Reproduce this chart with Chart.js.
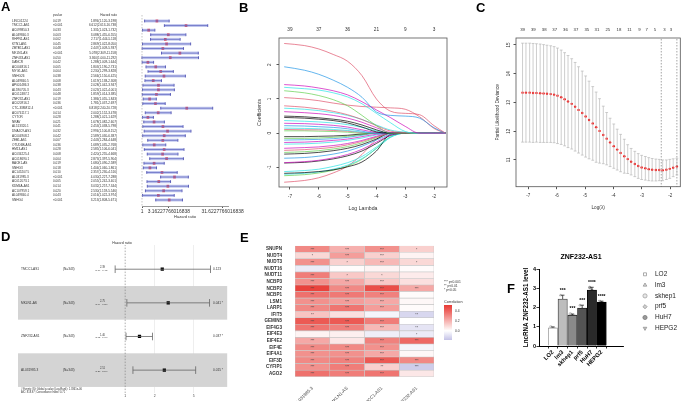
<!DOCTYPE html>
<html>
<head>
<meta charset="utf-8">
<script src="https://cdn.jsdelivr.net/npm/chart.js@4.4.1/dist/chart.umd.min.js"></script>
<style>
html, body { margin: 0; padding: 0; background: #fff; }
#fig { position: relative; width: 685px; height: 401px; overflow: hidden; font-family: "Liberation Sans", Arial, sans-serif; }
.box { position: absolute; }
.lab { position: absolute; font-weight: bold; font-size: 13px; line-height: 13px; color: #000; }
</style>
</head>
<body>
<div id="fig">
  <div class="box" style="left:0;top:0;width:252px;height:230px"><canvas id="cA"></canvas></div>
  <div class="box" style="left:232px;top:0;width:222px;height:230px"><canvas id="cB"></canvas></div>
  <div class="box" style="left:460px;top:0;width:225px;height:230px"><canvas id="cC"></canvas></div>
  <div class="box" style="left:0;top:238px;width:232px;height:163px"><canvas id="cD"></canvas></div>
  <div class="box" style="left:232px;top:238px;width:240px;height:163px"><canvas id="cE"></canvas></div>
  <div class="box" style="left:505px;top:240px;width:180px;height:161px"><canvas id="cF"></canvas></div>
  <div class="lab" style="left:1px;top:0">A</div>
  <div class="lab" style="left:239px;top:1px">B</div>
  <div class="lab" style="left:476px;top:1px">C</div>
  <div class="lab" style="left:1px;top:230px">D</div>
  <div class="lab" style="left:240px;top:231px">E</div>
  <div class="lab" style="left:507px;top:282px">F</div>
</div>
<script>
// ---------- A: univariate Cox forest ----------
const aGenes = ["LINC01224","TMCC1-AS1","AC099850.3","AL049840.3","RHPN1-AS1","KTN1-AS1","ZBTB11-AS1","MKLN1-AS","ZNF433-AS1","DANCR",
  "AC004816.1","MYG1-AS1","SNHG26","AL049840.5","AP001486.3","AL590705.3","AC012487.2","ZNF232-AS1","AC020916.2","CTC-338M12.4",
  "AC074117.1","CYTOR","NRAV","AL513320.1","DNAJC9-AS1","AC004908.2","ZEB1-AS1","OTUD6B-AS1","HM13-AS1","AC034225.4",
  "AC018690.1","BACE1-AS","SNHG3","AC145207.5","AL031985.3","AC012073.1","KDM4A-AS1","AC107959.1","AL049840.4","SNHG4"];
const aPval = ["0.019","<0.001","0.033","0.003","0.002","0.045","0.048","<0.001","0.050","0.042",
  "0.005","0.004","0.038","0.008","0.038","0.043","0.048","0.019","0.036","<0.001",
  "0.014","0.028","0.021","0.041","0.032","0.042","0.007","0.036","0.028","0.008",
  "0.004","0.019","0.018","0.010","<0.001","0.005","0.014","0.020","0.043","<0.001"];
const aHR = [1.894,6.612,1.331,3.088,2.717,2.869,2.447,5.078,3.360,1.288,
  1.803,2.230,2.566,1.619,2.028,2.023,1.859,1.386,1.781,6.818,
  2.002,1.288,1.678,2.453,2.994,2.589,2.443,1.689,2.585,2.420,
  2.873,1.680,1.404,2.357,4.030,2.055,3.032,2.530,2.016,3.213];
const aLow = [1.120,2.613,1.023,1.455,1.444,1.022,1.009,2.309,1.000,1.009,
  1.190,1.299,1.150,1.138,1.042,1.022,1.014,1.055,1.037,2.240,
  1.152,1.021,1.082,1.038,1.100,1.030,1.284,1.035,1.106,1.255,
  1.397,1.090,1.060,1.230,2.227,1.242,1.257,1.159,1.022,1.808];
const aHigh = [3.198,16.738,1.732,6.555,5.118,8.050,5.937,11.158,11.292,1.644,
  2.731,3.828,6.425,2.308,3.947,4.001,3.385,1.843,2.697,20.728,
  3.478,1.629,2.607,5.798,8.152,6.387,4.648,2.768,6.041,4.668,
  5.904,2.589,1.861,4.516,7.288,3.401,7.344,5.546,3.974,5.671];
const aTicks = [1, 3.16227766016838, 31.6227766016838];
const aTickLabels = ["1", "3.16227766016838", "31.6227766016838"];

// ---------- B: lasso coefficient paths ----------
const bLogLambda = [-7.2, -6.5, -6, -5.5, -5, -4.5, -4, -3.5, -3, -2.5, -2, -1.6];
const bCoef = [
  [2.62, 2.56, 2.46, 2.30, 2.10, 1.68, 1.00, 0.64, 0.58, 0.54, 0.22, 0],
  [1.94, 1.84, 1.72, 1.55, 1.34, 1.05, 0.62, 0.52, 0.50, 0.44, 0.16, 0],
  [1.42, 1.38, 1.32, 1.24, 1.12, 0.92, 0.68, 0.45, 0.20, 0, 0, 0],
  [1.34, 1.30, 1.26, 1.18, 1.06, 0.86, 0.58, 0.30, 0.05, 0, 0, 0],
  [1.24, 1.18, 1.10, 0.98, 0.80, 0.52, 0.22, 0, 0, 0, 0, 0],
  [1.04, 1.00, 0.95, 0.88, 0.82, 0.78, 0.76, 0.74, 0.70, 0.48, 0.14, 0],
  [0.80, 0.76, 0.71, 0.64, 0.54, 0.40, 0.22, 0.06, 0.02, 0, 0, 0],
  [0.73, 0.70, 0.66, 0.60, 0.52, 0.40, 0.24, 0.09, 0.03, 0, 0, 0],
  [0.63, 0.60, 0.57, 0.52, 0.44, 0.32, 0.16, 0.02, 0, 0, 0, 0],
  [0.50, 0.48, 0.45, 0.41, 0.35, 0.24, 0.10, 0, 0, 0, 0, 0],
  [0.46, 0.44, 0.41, 0.37, 0.30, 0.18, 0.04, 0, 0, 0, 0, 0],
  [0.37, 0.35, 0.33, 0.30, 0.25, 0.17, 0.07, 0, 0, 0, 0, 0],
  [0.29, 0.28, 0.26, 0.23, 0.18, 0.10, 0.02, 0, 0, 0, 0, 0],
  [0.22, 0.21, 0.19, 0.17, 0.13, 0.06, 0, 0, 0, 0, 0, 0],
  [0.15, 0.14, 0.13, 0.11, 0.08, 0.03, 0, 0, 0, 0, 0, 0],
  [0.11, 0.10, 0.10, 0.08, 0.06, 0.02, 0, 0, 0, 0, 0, 0],
  [0.07, 0.07, 0.06, 0.05, 0.03, 0, 0, 0, 0, 0, 0, 0],
  [-0.10, -0.10, -0.09, -0.08, -0.06, -0.02, 0, 0, 0, 0, 0, 0],
  [-0.15, -0.15, -0.14, -0.12, -0.09, -0.04, 0, 0, 0, 0, 0, 0],
  [-0.20, -0.19, -0.18, -0.16, -0.12, -0.06, 0, 0, 0, 0, 0, 0],
  [-0.27, -0.26, -0.24, -0.21, -0.17, -0.10, -0.03, 0, 0, 0, 0, 0],
  [-0.32, -0.31, -0.29, -0.26, -0.21, -0.14, -0.05, 0, 0, 0, 0, 0],
  [-0.44, -0.42, -0.40, -0.36, -0.30, -0.21, -0.09, 0, 0, 0, 0, 0],
  [-0.50, -0.48, -0.45, -0.41, -0.34, -0.24, -0.11, 0, 0, 0, 0, 0],
  [-0.56, -0.54, -0.51, -0.46, -0.39, -0.28, -0.13, 0, 0, 0, 0, 0],
  [-0.61, -0.59, -0.56, -0.51, -0.44, -0.33, -0.17, 0, 0, 0, 0, 0],
  [-0.73, -0.71, -0.67, -0.61, -0.52, -0.38, -0.20, -0.03, 0, 0, 0, 0],
  [-0.86, -0.83, -0.79, -0.72, -0.62, -0.47, -0.26, -0.05, 0, 0, 0, 0],
  [-0.87, -0.85, -0.81, -0.75, -0.66, -0.52, -0.30, -0.06, 0, 0, 0, 0],
  [-1.12, -1.09, -1.05, -0.97, -0.86, -0.68, -0.40, -0.10, 0, 0, 0, 0],
  [-1.17, -1.15, -1.12, -1.07, -0.98, -0.84, -0.52, -0.03, 0, 0, 0, 0],
  [-1.20, -1.17, -1.13, -1.05, -0.93, -0.74, -0.45, -0.12, 0, 0, 0, 0],
  [-1.24, -1.21, -1.16, -1.08, -0.96, -0.76, -0.44, -0.10, 0, 0, 0, 0],
  [-1.43, -1.38, -1.30, -1.16, -0.96, -0.62, -0.18, 0, 0, 0, 0, 0]
];
const bTicks = [-7, -6, -5, -4, -3, -2];
const bTopPos = [-7, -6, -5, -4, -3, -2];
const bTopLabels = ["39", "37", "36", "21", "9", "3"];

// ---------- C: cross-validation curve ----------
const cLogLambda = [-7.20,-7.08,-6.95,-6.83,-6.71,-6.58,-6.46,-6.34,-6.21,-6.09,-5.97,-5.84,-5.72,-5.60,-5.47,
  -5.35,-5.23,-5.10,-4.98,-4.86,-4.73,-4.61,-4.49,-4.36,-4.24,-4.12,-3.99,-3.87,-3.75,-3.62,
  -3.50,-3.38,-3.25,-3.13,-3.01,-2.88,-2.76,-2.64,-2.51,-2.39,-2.27,-2.14,-2.02,-1.90,-1.77];
const cMean = [13.34,13.34,13.34,13.33,13.33,13.32,13.31,13.30,13.29,13.27,13.23,13.18,13.11,13.03,12.95,
  12.85,12.74,12.63,12.51,12.39,12.27,12.14,12.01,11.87,11.74,11.61,11.48,11.36,11.24,11.13,
  11.03,10.94,10.86,10.79,10.74,10.71,10.68,10.66,10.65,10.65,10.64,10.66,10.69,10.73,10.77];
const cSE = [1.72,1.72,1.72,1.72,1.71,1.71,1.70,1.69,1.68,1.67,1.66,1.64,1.62,1.60,1.57,
  1.54,1.50,1.46,1.41,1.35,1.28,1.22,1.12,1.00,0.91,0.84,0.77,0.71,0.65,0.59,
  0.50,0.46,0.44,0.43,0.42,0.41,0.40,0.39,0.38,0.37,0.36,0.34,0.33,0.31,0.29];
const cLambdaMin = -2.32;
const cLambda1se = -1.77;
const cTicks = [-7, -6, -5, -4, -3, -2];
const cYTicks = [11, 12, 13, 14, 15];
const cTopPos = [-7.2,-6.82,-6.44,-6.07,-5.69,-5.32,-4.94,-4.58,-4.2,-3.81,-3.44,-3.09,-2.83,-2.54,-2.21,-1.98];
const cTopLabels = ["39","39","38","37","36","37","35","31","25","18","11","9","7","5","3","3"];

// ---------- D: multivariate Cox forest ----------
const dGenes = ["TMCC1-AS1", "MKLN1-AS", "ZNF232-AS1", "AL031985.3"];
const dN = ["(N=343)", "(N=343)", "(N=343)", "(N=343)"];
const dHR = [2.39, 2.75, 1.40, 2.51];
const dLow = [0.79, 1.04, 1.02, 1.20];
const dHigh = [7.43, 7.26, 1.90, 5.24];
const dP = ["0.123", "0.041 *", "0.037 *", "0.015 *"];
const dTicks = [1, 2, 5];

// ---------- E: correlation heatmap ----------
const eGenes = ["SNUPN","NUDT4","NUDT3","NUDT16","NUDT11","NCBP3","NCBP2","NCBP1","LSM1","LARP1",
  "IFIT5","GEMIN5","EIF4G3","EIF4E3","EIF4E2","EIF4E","EIF4A1","EIF3D","CYFIP1","AGO2"];
const eCols = ["AL031985.3", "MKLN1-AS", "TMCC1-AS1", "ZNF232-AS1"];
const corrAL031985 = [0.30,0.10,0.28,-0.06,0.33,0.28,0.48,0.36,0.28,0.30,0.15,0.42,0.35,0.03,0.22,0.30,0.28,0.30,0.28,0.36];
const corrMKLN1 = [0.20,0.25,0.12,0.01,0.14,0.22,0.30,0.34,0.25,0.35,0.08,0.42,0.32,0.04,0.06,0.30,0.28,0.32,0.33,0.33];
const corrTMCC1 = [0.28,0.12,0.18,0.03,0.10,0.14,0.45,0.32,0.22,0.25,-0.03,0.33,0.18,-0.05,0.32,0.28,0.22,0.42,0.12,0.35];
const corrZNF232 = [0.12,0.03,0.10,0.01,0.05,0.08,0.22,0.01,0.02,0.01,-0.12,0.00,-0.08,-0.06,0.38,-0.03,0.02,0.30,-0.15,0.06];
const sigAL031985 = ["***","*","***","","***","***","***","***","***","***","**","***","***","","***","***","***","***","***","***"];
const sigMKLN1 = ["***","***","*","","*","***","***","***","***","***","","***","***","","","***","***","***","***","***"];
const sigTMCC1 = ["***","***","***","","*","***","***","***","***","***","","***","***","","***","***","***","***","**","***"];
const sigZNF232 = ["*","","*","","","","***","","","","**","","**","*","***","","","***","***",""];
const eLegendTicks = [0.4, 0.2, 0.0];

// ---------- F: qPCR bar chart ----------
const fLines = ["LO2", "lm3", "skhep1", "prf5", "HuH7", "HEPG2"];
const fMean = [0.94, 2.44, 1.60, 1.97, 2.91, 2.28];
const fSD = [0.05, 0.20, 0.06, 0.15, 0.14, 0.05];
const fRepA = [1.00, 2.64, 1.67, 2.12, 3.04, 2.34];
const fRepB = [0.93, 2.38, 1.58, 1.92, 2.90, 2.27];
const fRepC = [0.89, 2.30, 1.55, 1.87, 2.79, 2.23];
const fStars = ["", "***", "***", "***", "****", "****"];

// ---------- shared ----------
const FONT = '"Liberation Sans", Arial, sans-serif';
Chart.defaults.font.family = FONT;
Chart.defaults.color = '#222';
Chart.defaults.animation = false;
Chart.defaults.responsive = true;
Chart.defaults.maintainAspectRatio = false;
Chart.defaults.plugins.legend.display = false;
Chart.defaults.plugins.tooltip.enabled = false;

// segments lo->hi with a break after each one
function seg(x1, y1, x2, y2) {
  const out = [];
  for (let i = 0; i < x1.length; i++) {
    out.push({x: x1[i], y: y1[i]}, {x: x2[i], y: y2[i]}, {x: null, y: null});
  }
  return out;
}
const pts = (xs, ys) => xs.map((v, i) => ({x: v, y: ys[i]}));
const fixTicks = vals => s => { s.ticks = vals.map(v => ({value: v})); };

const frame = {
  id: 'frame',
  afterDraw(c) {
    const a = c.chartArea, ctx = c.ctx;
    ctx.save();
    ctx.strokeStyle = '#555';
    ctx.lineWidth = 0.8;
    ctx.strokeRect(a.left, a.top, a.right - a.left, a.bottom - a.top);
    ctx.restore();
  }
};

// ---------- A ----------
const aRows = aGenes.map((g, i) => i);
const aText = {
  id: 'aText',
  afterDraw(c) {
    const ctx = c.ctx, y = c.scales.y;
    ctx.save();
    ctx.fillStyle = '#333';
    ctx.textBaseline = 'middle';
    ctx.font = '3.1px ' + FONT;
    const hy = y.getPixelForValue(-1.25);
    ctx.textAlign = 'left';
    ctx.fillText('pvalue', 53, hy);
    ctx.textAlign = 'right';
    ctx.fillText('Hazard ratio', 117, hy);
    aGenes.forEach((g, i) => {
      const py = y.getPixelForValue(i);
      ctx.textAlign = 'left';
      ctx.fillText(g, 12, py);
      ctx.fillText(aPval[i], 53, py);
      ctx.textAlign = 'right';
      ctx.fillText(aHR[i].toFixed(3) + '(' + aLow[i].toFixed(3) + '-' + aHigh[i].toFixed(3) + ')', 117, py);
    });
    ctx.restore();
  }
};
new Chart(document.getElementById('cA'), {
  type: 'scatter',
  data: {datasets: [
    {data: [{x: 1, y: -1.3}, {x: 1, y: 40.3}], showLine: true, borderColor: '#aaa', borderWidth: 0.7, borderDash: [1.5, 1.5], pointRadius: 0},
    {data: seg(aLow, aRows, aHigh, aRows), showLine: true, borderColor: 'rgba(150,160,225,0.55)', borderWidth: 3, pointRadius: 0},
    {data: seg(aLow, aRows, aHigh, aRows), showLine: true, borderColor: '#25259a', borderWidth: 0.8, pointRadius: 0},
    {data: pts(aLow, aRows).concat(pts(aHigh, aRows)), pointStyle: 'line', pointRotation: 90, pointRadius: 1.4,
     pointBorderColor: '#25259a', pointBorderWidth: 0.8},
    {data: pts(aHR, aRows), pointStyle: 'rect', pointRadius: 1.9, pointBackgroundColor: '#ff0000', pointBorderWidth: 0}
  ]},
  options: {
    clip: false,
    layout: {padding: {left: 142, right: 24, top: 18, bottom: 0}},
    scales: {
      x: {type: 'logarithmic', min: 1, max: 40,
          afterBuildTicks: fixTicks(aTicks),
          afterFit: s => { s.height = 24; },
          ticks: {callback: (v, i) => aTickLabels[i], font: {size: 4.9}, color: '#333', padding: 0.8, maxRotation: 0, autoSkip: false},
          grid: {drawOnChartArea: false, tickLength: 2, color: '#555'},
          border: {color: '#555', width: 0.6},
          title: {display: true, text: 'Hazard ratio', font: {size: 4}, color: '#333', padding: {top: 0, bottom: 10.9}}},
      y: {type: 'linear', reverse: true, min: -0.65, max: 40.31, display: false}
    }
  },
  plugins: [aText]
});

// ---------- B ----------
const bColors = ['#DF536B','#2297E6','#CD0BBC','#28E2E5','#61D04F','#DF536B','#DF536B','#28E2E5','#CD0BBC','#000000',
  '#000000','#28E2E5','#CD0BBC','#2297E6','#28E2E5','#DF536B','#61D04F','#000000','#61D04F','#2297E6',
  '#CD0BBC','#28E2E5','#CD0BBC','#DF536B','#61D04F','#000000','#2297E6','#CD0BBC','#000000','#28E2E5',
  '#000000','#28E2E5','#61D04F','#DF536B'];
new Chart(document.getElementById('cB'), {
  type: 'scatter',
  data: {datasets: bCoef.map((row, k) => ({
    data: pts(bLogLambda, row), showLine: true, borderColor: bColors[k], borderWidth: 0.7,
    pointRadius: 0, cubicInterpolationMode: 'monotone'
  }))},
  options: {
    layout: {padding: {left: 0, right: 7, top: 0, bottom: 0}},
    scales: {
      x: {type: 'linear', position: 'bottom', min: -7.38, max: -1.55,
          afterBuildTicks: fixTicks(bTicks), afterFit: s => { s.height = 43; },
          ticks: {font: {size: 4.7}, color: '#333', padding: 4, maxRotation: 0, autoSkip: false},
          grid: {drawOnChartArea: false, tickLength: 2.5, color: '#555'}, border: {display: false},
          title: {display: true, text: 'Log Lambda', font: {size: 5.2}, color: '#333', padding: {top: 0, bottom: 18}}},
      x2: {type: 'linear', position: 'top', min: -7.38, max: -1.55,
          afterBuildTicks: fixTicks(bTopPos), afterFit: s => { s.height = 38; },
          ticks: {callback: (v, i) => bTopLabels[i], font: {size: 4.7}, color: '#333', padding: 5.7, maxRotation: 0, autoSkip: false},
          grid: {drawOnChartArea: false, drawTicks: false}, border: {display: false}},
      y: {type: 'linear', min: -1.57, max: 2.78,
          afterBuildTicks: fixTicks([-1, 0, 1, 2]), afterFit: s => { s.width = 47; },
          ticks: {font: {size: 4.7}, color: '#333', padding: 5, minRotation: 90, maxRotation: 90, crossAlign: 'center'},
          grid: {drawOnChartArea: false, tickLength: 2.5, color: '#555'}, border: {display: false},
          title: {display: true, text: 'Coefficients', font: {size: 5.2}, color: '#333', padding: {top: 24, bottom: 0}}}
    }
  },
  plugins: [frame]
});

// ---------- C ----------
const cLo = cMean.map((m, i) => m - cSE[i]);
const cHi = cMean.map((m, i) => m + cSE[i]);
new Chart(document.getElementById('cC'), {
  type: 'scatter',
  data: {datasets: [
    {data: seg(cLogLambda, cLo, cLogLambda, cHi), showLine: true, borderColor: '#b8b8b8', borderWidth: 0.7, pointRadius: 0},
    {data: pts(cLogLambda, cLo).concat(pts(cLogLambda, cHi)), pointStyle: 'line', pointRadius: 1.4,
     pointBorderColor: '#b8b8b8', pointBorderWidth: 0.7},
    {data: [{x: cLambdaMin, y: 9}, {x: cLambdaMin, y: 16}], showLine: true, borderColor: '#666', borderWidth: 0.6, borderDash: [1.5, 1.5], pointRadius: 0},
    {data: [{x: cLambda1se, y: 9}, {x: cLambda1se, y: 16}], showLine: true, borderColor: '#666', borderWidth: 0.6, borderDash: [1.5, 1.5], pointRadius: 0},
    {data: pts(cLogLambda, cMean), pointStyle: 'circle', pointRadius: 1.2, pointBackgroundColor: '#ff0000', pointBorderWidth: 0}
  ]},
  options: {
    layout: {padding: {left: 0, right: 3, top: 0, bottom: 0}},
    scales: {
      x: {type: 'linear', position: 'bottom', min: -7.43, max: -1.65,
          afterBuildTicks: fixTicks(cTicks), afterFit: s => { s.height = 43.3; },
          ticks: {font: {size: 4.5}, color: '#333', padding: 4, maxRotation: 0, autoSkip: false},
          grid: {drawOnChartArea: false, tickLength: 2.5, color: '#555'}, border: {display: false},
          title: {display: true, text: 'Log(\u03bb)', font: {size: 4.7}, color: '#333', padding: {top: 0, bottom: 19}}},
      x2: {type: 'linear', position: 'top', min: -7.43, max: -1.65,
          afterBuildTicks: fixTicks(cTopPos), afterFit: s => { s.height = 38; },
          ticks: {callback: (v, i) => cTopLabels[i], font: {size: 4.3}, color: '#333', padding: 5.7, maxRotation: 0, autoSkip: false},
          grid: {drawOnChartArea: false, drawTicks: false}, border: {display: false}},
      y: {type: 'linear', min: 10.07, max: 15.24,
          afterBuildTicks: fixTicks(cYTicks), afterFit: s => { s.width = 56; },
          ticks: {font: {size: 4.5}, color: '#333', padding: 2.6, minRotation: 90, maxRotation: 90, crossAlign: 'center'},
          grid: {drawOnChartArea: false, tickLength: 2.5, color: '#555'}, border: {display: false},
          title: {display: true, text: 'Partial Likelihood Deviance', font: {size: 4.7}, color: '#333', padding: {top: 35, bottom: 0}}}
    }
  },
  plugins: [frame]
});

// ---------- D ----------
const dRows = dGenes.map((g, i) => i);
const dDeco = {
  id: 'dDeco',
  beforeDatasetsDraw(c) {
    const ctx = c.ctx, y = c.scales.y, a = c.chartArea;
    ctx.save();
    ctx.fillStyle = '#d4d4d4';
    dRows.forEach(i => {
      if (i % 2 === 1) {
        const t = y.getPixelForValue(i - 0.5), b = y.getPixelForValue(i + 0.5);
        ctx.fillRect(18, t, a.right - 18, b - t);
      }
    });
    ctx.restore();
  },
  afterDraw(c) {
    const ctx = c.ctx, y = c.scales.y;
    ctx.save();
    ctx.fillStyle = '#333';
    ctx.textBaseline = 'middle';
    ctx.textAlign = 'center';
    ctx.font = '3.6px ' + FONT;
    ctx.fillText('Hazard ratio', 122, 4.5);
    dGenes.forEach((g, i) => {
      const py = y.getPixelForValue(i);
      ctx.textAlign = 'left';
      ctx.font = '3.2px ' + FONT;
      ctx.fillText(g, 21, py);
      ctx.fillText(dN[i], 63, py);
      ctx.fillText(dP[i], 213, py);
      ctx.font = '2.6px ' + FONT;
      ctx.fillText(dHR[i].toFixed(2), 100, py - 1.6);
      ctx.font = '2.3px ' + FONT;
      ctx.fillText('(' + dLow[i].toFixed(2) + ' - ' + dHigh[i].toFixed(2) + ')', 95, py + 1.1);
    });
    ctx.font = '2.6px ' + FONT;
    ctx.fillText('# Events: 80; Global p-value (Log-Rank): 1.3361e-06', 21, 151.2);
    ctx.fillText('AIC: 818.97; Concordance Index: 0.71', 21, 154.4);
    ctx.restore();
  }
};
new Chart(document.getElementById('cD'), {
  type: 'scatter',
  data: {datasets: [
    {data: [{x: 1, y: -1}, {x: 1, y: 4}], showLine: true, borderColor: '#777', borderWidth: 0.6, borderDash: [1.5, 1.5], pointRadius: 0},
    {data: seg(dLow, dRows, dHigh, dRows), showLine: true, borderColor: '#666', borderWidth: 0.8, pointRadius: 0},
    {data: pts(dLow, dRows).concat(pts(dHigh, dRows)), pointStyle: 'line', pointRotation: 90, pointRadius: 3.8,
     pointBorderColor: '#666', pointBorderWidth: 0.8},
    {data: pts(dHR, dRows), pointStyle: 'rect', pointRadius: 2.3, pointBackgroundColor: '#000', pointBorderWidth: 0}
  ]},
  options: {
    layout: {padding: {left: 110, right: 4, top: 7, bottom: 0}},
    scales: {
      x: {type: 'logarithmic', min: 0.7, max: 11,
          afterBuildTicks: fixTicks(dTicks), afterFit: s => { s.height = 8; },
          ticks: {callback: (v, i) => String(dTicks[i]), font: {size: 3.4}, color: '#444', padding: 1, maxRotation: 0, autoSkip: false},
          grid: {drawTicks: false, lineWidth: 0.5, color: ctx => (ctx.tick && ctx.tick.value === 1) ? 'rgba(0,0,0,0)' : '#dcdcdc'},
          border: {display: false}},
      y: {type: 'linear', reverse: true, min: -0.72, max: 3.68, display: false}
    }
  },
  plugins: [dDeco]
});

// ---------- E ----------
function corrColor(v) {
  let c;
  if (v >= 0) {
    const t = Math.min(v / 0.5, 1);
    c = [255 - 23 * t, 255 - 197 * t, 255 - 203 * t];
  } else {
    const t = Math.min(-v / 0.2, 1);
    c = [255 - 65 * t, 255 - 67 * t, 255 - 27 * t];
  }
  return 'rgb(' + c.map(Math.round).join(',') + ')';
}
const eCorr = [corrAL031985, corrMKLN1, corrTMCC1, corrZNF232];
const eSig = [sigAL031985, sigMKLN1, sigTMCC1, sigZNF232];
const eDeco = {
  id: 'eDeco',
  afterDatasetsDraw(c) {
    const ctx = c.ctx;
    ctx.save();
    ctx.fillStyle = '#444';
    ctx.textAlign = 'center';
    ctx.textBaseline = 'middle';
    ctx.font = '3.4px ' + FONT;
    eSig.forEach((col, j) => {
      c.getDatasetMeta(j).data.forEach((bar, k) => {
        if (col[k]) ctx.fillText(col[k], (bar.x + bar.base) / 2, bar.y + 0.6);
      });
    });
    ctx.restore();
  },
  afterDraw(c) {
    const ctx = c.ctx;
    ctx.save();
    ctx.fillStyle = '#333';
    ctx.textBaseline = 'middle';
    ctx.textAlign = 'left';
    ctx.font = '3.3px ' + FONT;
    ctx.fillText('*** p<0.001', 212, 43.7);
    ctx.fillText('** p<0.01', 212, 47.7);
    ctx.fillText('* p<0.05', 212, 52);
    ctx.font = '3.8px ' + FONT;
    ctx.fillText('Correlation', 212, 63.7);
    const top = 67, bot = 102, vTop = 0.515, perUnit = 50;
    const g = ctx.createLinearGradient(0, top, 0, bot);
    [0.515, 0.4, 0.3, 0.2, 0.1, 0, -0.1, -0.185].forEach(v => {
      g.addColorStop((vTop - v) * perUnit / (bot - top), corrColor(v));
    });
    ctx.fillStyle = g;
    ctx.fillRect(212, top, 8, bot - top);
    ctx.fillStyle = '#333';
    ctx.font = '3.3px ' + FONT;
    eLegendTicks.forEach(v => {
      ctx.fillText(v.toFixed(1), 223, top + (vTop - v) * perUnit);
    });
    ctx.restore();
  }
};
new Chart(document.getElementById('cE'), {
  type: 'bar',
  data: {
    labels: eGenes,
    datasets: eCorr.map((col, j) => ({
      data: eGenes.map(() => [j, j + 1]),
      backgroundColor: col.map(corrColor),
      borderColor: '#c6c6c6', borderWidth: 0.6, borderSkipped: false,
      categoryPercentage: 1, barPercentage: 1, grouped: false
    }))
  },
  options: {
    indexAxis: 'y',
    layout: {padding: {left: 0, right: 38, top: 4.7, bottom: 0}},
    scales: {
      x: {type: 'linear', min: 0, max: 4,
          afterBuildTicks: fixTicks([0.5, 1.5, 2.5, 3.5]), afterFit: s => { s.height = 24.3; },
          ticks: {callback: (v, i) => eCols[i], font: {size: 4.5}, color: '#444', padding: 1, minRotation: 45, maxRotation: 45, autoSkip: false},
          grid: {display: false}, border: {display: false}},
      y: {afterFit: s => { s.width = 63; },
          ticks: {font: {size: 4.6, weight: 'bold'}, color: '#333', padding: 5, autoSkip: false},
          grid: {display: false}, border: {display: false}}
    }
  },
  plugins: [eDeco]
});

// ---------- F ----------
const fIdx = fLines.map((n, i) => i);
const fJitter = [-0.22, 0, 0.22];
const fFill = ['#ffffff', '#bdbdbd', '#8a8a8a', '#545454', '#2a2a2a', '#000000'];
const fEdge = ['#9a9a9a', '#333333', '#222222', '#111111', '#000000', '#000000'];
const fStyle = ['rect', 'triangle', 'circle', 'rectRot', 'circle', 'triangle'];
const fRot = [0, 0, 0, 0, 0, 180];
const fPtFill = ['#ffffff', '#d8d8d8', '#e6e6e6', '#cfcfcf', '#9a9a9a', '#c8c8c8'];
const fPtEdge = ['#888888', '#8a8a8a', '#9a9a9a', '#8a8a8a', '#707070', '#8a8a8a'];
const fLo = fMean.map((m, i) => m - fSD[i]);
const fHi = fMean.map((m, i) => m + fSD[i]);
const fDeco = {
  id: 'fDeco',
  afterDatasetsDraw(c) {
    const ctx = c.ctx, x = c.scales.x, y = c.scales.y;
    ctx.save();
    ctx.fillStyle = '#000';
    ctx.textAlign = 'center';
    ctx.textBaseline = 'bottom';
    ctx.font = 'bold 5px ' + FONT;
    fStars.forEach((s, i) => {
      if (s) ctx.fillText(s, x.getPixelForValue(i), y.getPixelForValue(fHi[i]) - 2.5);
    });
    ctx.restore();
  },
  afterDraw(c) {
    // legend of the replicate symbols, right of the plot
    const ctx = c.ctx;
    ctx.save();
    ctx.font = '6.5px ' + FONT;
    ctx.textAlign = 'left';
    ctx.textBaseline = 'middle';
    fLines.forEach((name, i) => {
      const ly = 34.3 + i * 10.8;
      ctx.fillStyle = fPtFill[i];
      ctx.strokeStyle = fPtEdge[i];
      ctx.lineWidth = 0.7;
      Chart.helpers.drawPoint(ctx, {pointStyle: fStyle[i], radius: 2.1, rotation: fRot[i], borderWidth: 0.7}, 140, ly);
      ctx.fillStyle = '#222';
      ctx.fillText(name, 150, ly);
    });
    ctx.restore();
  }
};
const fRepDatasets = fLines.map((name, i) => ({
  type: 'scatter',
  data: [fRepA[i], fRepB[i], fRepC[i]].map((v, k) => ({x: i + fJitter[k], y: v})),
  pointStyle: fStyle[i], pointRotation: fRot[i], pointRadius: 1.3,
  pointBackgroundColor: fPtFill[i], pointBorderColor: fPtEdge[i], pointBorderWidth: 0.5
}));
new Chart(document.getElementById('cF'), {
  type: 'bar',
  data: {datasets: [
    {type: 'bar', data: pts(fIdx, fMean), backgroundColor: fFill, borderColor: fEdge, borderWidth: 0.8,
     borderSkipped: 'bottom', barThickness: 9.3},
    {type: 'scatter', data: seg(fIdx, fLo, fIdx, fHi), showLine: true, borderColor: '#111', borderWidth: 0.7, pointRadius: 0},
    {type: 'scatter', data: pts(fIdx, fHi).concat(pts(fIdx, fLo)), pointStyle: 'line', pointRadius: 1.8,
     pointBorderColor: '#111', pointBorderWidth: 0.7}
  ].concat(fRepDatasets)},
  options: {
    layout: {padding: {left: 0, right: 62, top: 0, bottom: 0}},
    plugins: {
      title: {display: true, text: 'ZNF232-AS1', fullSize: false, color: '#000',
              font: {size: 7, weight: 'bold'}, padding: {top: 12.5, bottom: 8.1}}
    },
    scales: {
      x: {type: 'linear', min: -0.71, max: 6.47,
          afterBuildTicks: fixTicks(fIdx), afterFit: s => { s.height = 55; },
          ticks: {callback: (v, i) => fLines[i], font: {size: 5.8, weight: 'bold'}, color: '#000', padding: 0.5,
                  minRotation: 45, maxRotation: 45, autoSkip: false},
          grid: {drawOnChartArea: false, tickLength: 2.5, color: '#000', lineWidth: 0.8},
          border: {color: '#000', width: 1}},
      y: {type: 'linear', min: 0, max: 4,
          afterBuildTicks: fixTicks([0, 1, 2, 3, 4]), afterFit: s => { s.width = 34; },
          ticks: {font: {size: 5.5, weight: 'bold'}, color: '#000', padding: 0.5},
          grid: {drawOnChartArea: false, tickLength: 2.5, color: '#000', lineWidth: 0.8},
          border: {color: '#000', width: 1},
          title: {display: true, text: 'LncRNA ZNF232-AS1 level', color: '#000', font: {size: 6.3, weight: 'bold'},
                  padding: {top: 17.9, bottom: 0}}}
    }
  },
  plugins: [fDeco]
});
</script>
</body>
</html>
